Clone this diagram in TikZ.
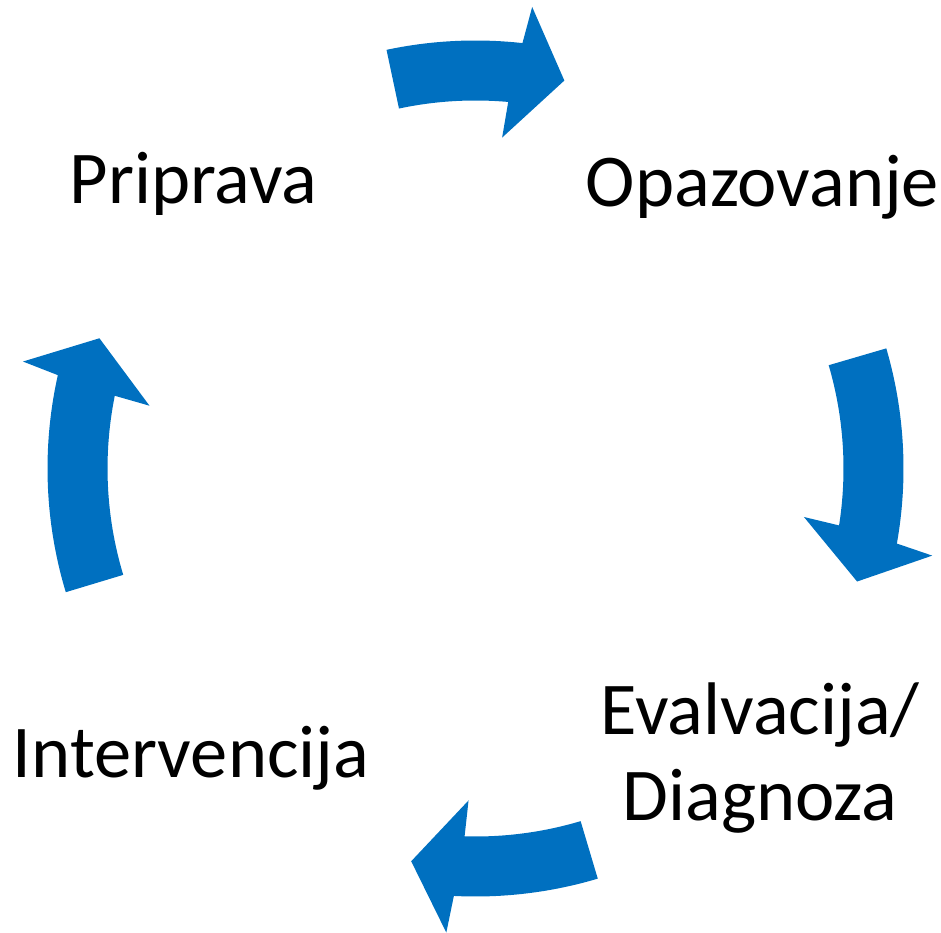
\documentclass[tikz,border=0pt]{standalone}
\usepackage{fontspec}
\setmainfont{Carlito}
\definecolor{cycleblue}{HTML}{0070C0}

\begin{document}
\begin{tikzpicture}[x=1pt, y=1pt,
      stage/.style ={inner sep = 0pt, align=center, font=\fontsize{74.5}{86}\selectfont},
      cyclearrow/.style ={fill=cycleblue}]
   \useasboundingbox (0,0) rectangle (941,932);

   \node[stage, anchor=base] (A)  at (193.5,728)  {Priprava};
   \node[stage, anchor=base] (B)  at (762.5,725)  {Opazovanje};
   \node[stage, anchor=base] (C)  at (760,112)  {Evalvacija/\\Diagnoza};
   \node[stage, anchor=base] (D)  at (191,155)  {Intervencija};

   \begin{scope}[shift={(475.5,463.5)}]
   \fill[cyclearrow] (102:428) arc[start angle=102, end angle=83.7, radius=428] -- (83.0:465) -- (77.1:398)
      -- (85.4:332) -- (84.9:368) arc[start angle=84.9, end angle=102, radius=368] -- cycle;
   \fill[cyclearrow] (16.3:428) arc[start angle=16.3, end angle=-10.1, radius=428] -- (-10.8:465) -- (-16.5:398)
      -- (-8.4:332) -- (-8.9:368) arc[start angle=-8.9, end angle=16.3, radius=368] -- cycle;
   \fill[cyclearrow] (-73.4:428) arc[start angle=-73.4, end angle=-92.9, radius=428] -- (-93.6:465) -- (-99.3:398)
      -- (-91.2:332) -- (-91.7:368) arc[start angle=-91.7, end angle=-73.4, radius=368] -- cycle;
   \fill[cyclearrow] (196.8:428) arc[start angle=196.8, end angle=167.4, radius=428] -- (166.7:465) -- (160.9:398)
      -- (169.1:332) -- (168.6:368) arc[start angle=168.6, end angle=196.8, radius=368] -- cycle;
   \end{scope}

 \end{tikzpicture}
\end{document}
